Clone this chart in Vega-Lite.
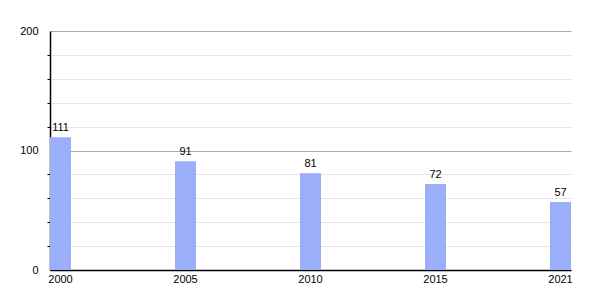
{
  "$schema": "https://vega.github.io/schema/vega-lite/v6.json",
  "autosize": {"type": "none"},
  "width": 521,
  "height": 239,
  "padding": {"left": 50, "top": 31, "right": 29, "bottom": 30},
  "background": "white",
  "config": {
    "view": {"stroke": null},
    "font": "Liberation Sans",
    "axis": {"labelFont": "Liberation Sans", "labelFontSize": 11, "labelColor": "#000"}
  },
  "data": {
    "values": [
      {"year": "2000", "value": 111},
      {"year": "2005", "value": 91},
      {"year": "2010", "value": 81},
      {"year": "2015", "value": 72},
      {"year": "2021", "value": 57}
    ]
  },
  "encoding": {
    "x": {
      "field": "year",
      "type": "ordinal",
      "scale": {"paddingInner": 0.832, "paddingOuter": 0, "align": 0},
      "axis": {"title": null, "labelAngle": 0, "ticks": false, "labelPadding": 3, "domainColor": "#000", "domainWidth": 1.5, "grid": false}
    }
  },
  "layer": [
    {
      "mark": {"type": "bar", "color": "#9aaefa", "opacity": 1},
      "encoding": {
        "y": {
          "field": "value",
          "type": "quantitative",
          "scale": {"domain": [0, 200], "nice": false},
          "axis": {"title": null, "values": [0, 100, 200], "ticks": false, "labelPadding": 12, "grid": true, "gridColor": "#aaaaaa", "gridOpacity": 1, "domainColor": "#000", "domainWidth": 1.5, "orient": "left", "zindex": 0}
        }
      }
    },
    {
      "mark": {"type": "text", "baseline": "bottom", "dy": -4, "fontSize": 11, "color": "#000"},
      "encoding": {
        "y": {
          "field": "value",
          "type": "quantitative",
          "axis": {"title": null, "values": [20, 40, 60, 80, 120, 140, 160, 180], "labels": false, "ticks": true, "tickSize": 3, "tickColor": "#000", "domain": false, "grid": true, "gridColor": "#e6e6e6", "gridOpacity": 1, "orient": "left", "zindex": 0}
        },
        "text": {"field": "value", "type": "quantitative"}
      }
    }
  ],
  "resolve": {"axis": {"y": "independent"}}
}
